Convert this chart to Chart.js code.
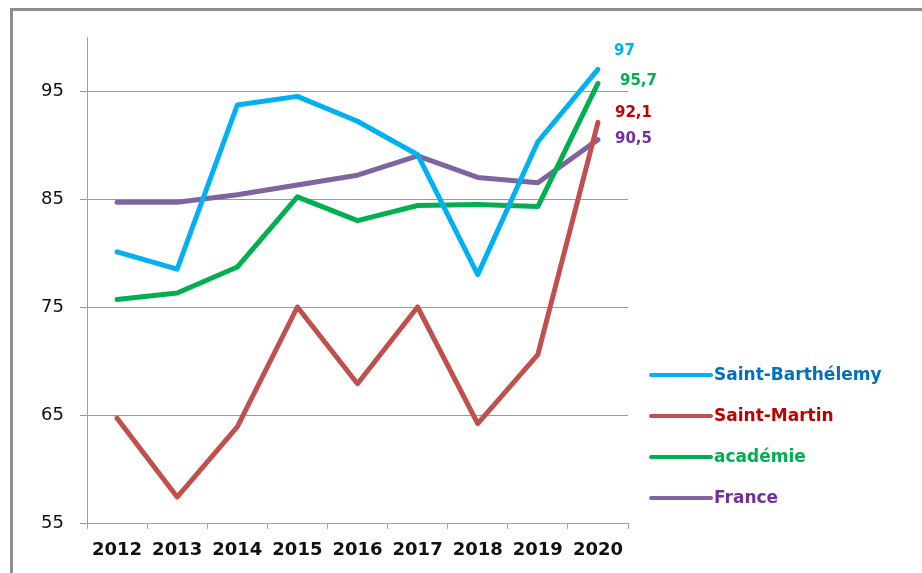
<!DOCTYPE html>
<html>
<head>
<meta charset="utf-8">
<script src="https://cdn.jsdelivr.net/npm/chart.js@4/dist/chart.umd.min.js"></script>
<style>
  html, body { margin: 0; padding: 0; background: #fff; overflow: hidden; }
  #wrap { position: relative; width: 922px; height: 573px; }
  #frame { position: absolute; left: 10px; top: 8px; width: 1000px; height: 700px;
           border-left: 3px solid #8e8e8e; border-top: 3px solid #8e8e8e; }
  canvas { position: absolute; left: 0; top: 0; }
</style>
</head>
<body>
<div id="wrap">
  <div id="frame"></div>
  <canvas id="chart" width="922" height="573"></canvas>
</div>
<script>
var years = ['2012', '2013', '2014', '2015', '2016', '2017', '2018', '2019', '2020'];
var saintBarth = [80.1, 78.5, 93.7, 94.5, 92.2, 89.1, 78.0, 90.3, 97];
var saintMartin = [64.7, 57.4, 63.9, 75.0, 67.9, 75.0, 64.2, 70.6, 92.1];
var academie = [75.7, 76.3, 78.7, 85.2, 83.0, 84.4, 84.5, 84.3, 95.7];
var france = [84.7, 84.7, 85.4, 86.3, 87.2, 89.0, 87.0, 86.5, 90.5];
var yTicks = [55, 65, 75, 85, 95];

var lineColors = ['#00B0F0', '#C0504D', '#00B050', '#8064A2'];
var textColors = ['#0070C0', '#C00000', '#00B050', '#7030A0'];
var valueColors = ['#00B0F0', '#C00000', '#00B050', '#7030A0'];
// offsets of the end value labels from the last point
var labelOffsets = [[16, -18], [17, -9], [22, -2], [17, 0]];

var makeSet = function(label, data, i) {
    return {
        label: label,
        data: data,
        borderColor: lineColors[i],
        backgroundColor: lineColors[i],
        borderWidth: 5,
        pointRadius: 0,
        tension: 0,
        borderCapStyle: 'round',
        borderJoinStyle: 'round'
    };
};

var endLabels = {
    id: 'endLabels',
    afterDatasetsDraw: function(chart) {
        var ctx = chart.ctx;
        ctx.save();
        ctx.font = 'bold 15px "DejaVu Sans"';
        ctx.textBaseline = 'middle';
        ctx.textAlign = 'left';
        chart.data.datasets.forEach(function(ds, i) {
            var meta = chart.getDatasetMeta(i);
            var last = meta.data[meta.data.length - 1];
            var v = ds.data[ds.data.length - 1];
            ctx.fillStyle = valueColors[i];
            ctx.fillText(String(v).replace('.', ','), last.x + labelOffsets[i][0], last.y + labelOffsets[i][1]);
        });
        ctx.restore();
    }
};

var sideLegend = {
    id: 'sideLegend',
    afterDraw: function(chart) {
        var ctx = chart.ctx;
        var x0 = chart.chartArea.right + 23;
        var rows = [375, 416, 457, 498];
        ctx.save();
        ctx.font = 'bold 17px "DejaVu Sans"';
        ctx.textBaseline = 'middle';
        chart.data.datasets.forEach(function(ds, i) {
            ctx.strokeStyle = lineColors[i];
            ctx.lineWidth = 4;
            ctx.lineCap = 'round';
            ctx.beginPath();
            ctx.moveTo(x0, rows[i]);
            ctx.lineTo(x0 + 60, rows[i]);
            ctx.stroke();
            ctx.fillStyle = textColors[i];
            ctx.fillText(ds.label, x0 + 63, rows[i] + 1);
        });
        ctx.restore();
    }
};

window.onload = function() {
    var ctx = document.getElementById('chart').getContext('2d');
    window.chart = new Chart(ctx, {
        type: 'line',
        data: {
            labels: years,
            datasets: [
                makeSet('Saint-Barthélemy', saintBarth, 0),
                makeSet('Saint-Martin', saintMartin, 1),
                makeSet('académie', academie, 2),
                makeSet('France', france, 3)
            ]
        },
        options: {
            responsive: false,
            animation: false,
            layout: { padding: { top: 37, right: 294, left: 0, bottom: 0 } },
            plugins: {
                legend: { display: false },
                tooltip: { enabled: false }
            },
            scales: {
                x: {
                    offset: true,
                    afterFit: function(scale) { scale.height = 50; },
                    grid: {
                        offset: true,
                        drawOnChartArea: false,
                        drawTicks: true,
                        tickLength: 6,
                        color: '#A0A0A0'
                    },
                    border: { color: '#A0A0A0', width: 1 },
                    ticks: {
                        color: '#111',
                        font: { family: 'DejaVu Sans', size: 18, weight: 'bold' },
                        padding: 11,
                        maxRotation: 0,
                        autoSkip: false
                    }
                },
                y: {
                    min: 55,
                    max: 100,
                    afterFit: function(scale) { scale.width = 87; },
                    afterBuildTicks: function(scale) {
                        scale.ticks = yTicks.map(function(v) { return { value: v }; });
                    },
                    grid: {
                        color: '#9A9A9A',
                        lineWidth: 1,
                        drawTicks: true,
                        tickLength: 7
                    },
                    border: { color: '#A0A0A0', width: 1 },
                    ticks: {
                        color: '#111',
                        font: { family: 'DejaVu Sans', size: 18 },
                        padding: 16
                    }
                }
            }
        },
        plugins: [endLabels, sideLegend]
    });
};
</script>
</body>
</html>
